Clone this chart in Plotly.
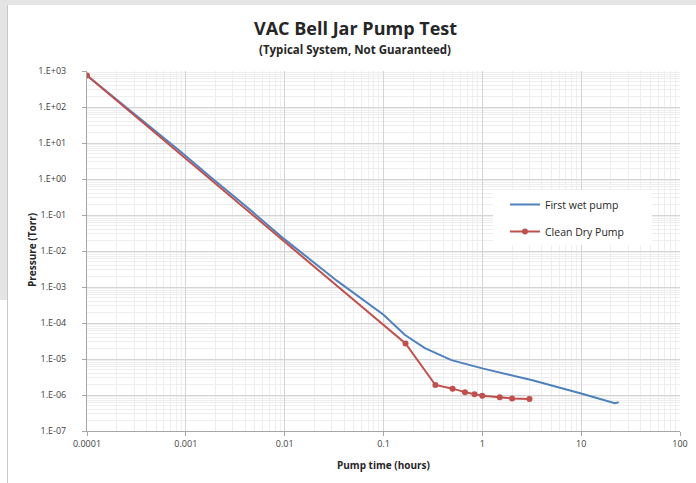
import plotly.graph_objects as go

# ---- data ----
wet_time = [0.0001, 0.00035, 0.00087, 0.0018, 0.004, 0.01, 0.0337, 0.1, 0.164, 0.262, 0.487, 1.0, 3.14, 10.0, 21.9, 24.0]
wet_pressure = [750, 45, 6.0, 1.1, 0.18, 0.021, 1.5e-3, 1.7e-4, 4.7e-5, 2.0e-5, 9.3e-6, 5.5e-6, 2.6e-6, 1.1e-6, 5.9e-7, 6.3e-7]

dry_time = [0.0001, 0.167, 0.335, 0.5, 0.667, 0.833, 1.0, 1.5, 2.0, 3.0]
dry_pressure = [750, 2.7e-5, 1.9e-6, 1.5e-6, 1.2e-6, 1.05e-6, 0.95e-6, 0.87e-6, 0.8e-6, 0.78e-6]

x_tick_vals = [0.0001, 0.001, 0.01, 0.1, 1, 10, 100]
x_tick_text = ["0.0001", "0.001", "0.01", "0.1", "1", "10", "100"]
y_tick_vals = [1e3, 1e2, 1e1, 1e0, 1e-1, 1e-2, 1e-3, 1e-4, 1e-5, 1e-6, 1e-7]
y_tick_text = ["1.E+03", "1.E+02", "1.E+01", "1.E+00", "1.E-01", "1.E-02",
               "1.E-03", "1.E-04", "1.E-05", "1.E-06", "1.E-07"]

FONT = "Open Sans"
TXT = "#262626"
W, H = 696, 483
L, R, T, B = 87, 16, 71, 52
pw, ph = W - L - R, H - T - B

def px(xp):
    return (xp - L) / pw

def py(yp):
    return (H - B - yp) / ph

fig = go.Figure()
fig.add_trace(go.Scatter(
    x=wet_time, y=wet_pressure, mode="lines", name="First wet pump",
    legendgroup="a", line=dict(color="#4F81BD", width=2)))
fig.add_trace(go.Scatter(
    x=dry_time, y=dry_pressure, mode="lines+markers", name="Clean Dry Pump",
    legendgroup="b", line=dict(color="#C0504D", width=2),
    marker=dict(color="#C0504D", size=6, symbol="circle")))

axis_common = dict(
    type="log", showline=True, linecolor="#a6a6a6", linewidth=1,
    showgrid=True, gridcolor="#d4d4d4", gridwidth=1, zeroline=False,
    tickfont=dict(family=FONT, size=9, color="#404040"),
    minor=dict(showgrid=True, gridcolor="#eeeeee", gridwidth=1, dtick="D1"),
    ticks="outside", ticklen=4, tickcolor="#a6a6a6",
)

fig.update_xaxes(**axis_common, range=[-4, 2], tickvals=x_tick_vals, ticktext=x_tick_text)
fig.update_yaxes(**axis_common, range=[-7, 3], tickvals=y_tick_vals, ticktext=y_tick_text,
                 ticklabelstandoff=14)

fig.add_annotation(x=px(355), y=py(28), xref="paper", yref="paper",
                   xanchor="center", yanchor="middle",
                   text="<b>VAC Bell Jar Pump Test</b>", showarrow=False,
                   font=dict(family=FONT, size=18, color=TXT))
fig.add_annotation(x=px(355), y=py(49), xref="paper", yref="paper",
                   xanchor="center", yanchor="middle",
                   text="<b>(Typical System, Not Guaranteed)</b>", showarrow=False,
                   font=dict(family=FONT, size=11.5, color=TXT))
fig.add_annotation(x=px(383), y=py(465), xref="paper", yref="paper",
                   xanchor="center", yanchor="middle",
                   text="<b>Pump time (hours)</b>", showarrow=False,
                   font=dict(family=FONT, size=10, color=TXT))
fig.add_annotation(x=px(32), y=py(250), xref="paper", yref="paper",
                   xanchor="center", yanchor="middle", textangle=-90,
                   text="<b>Pressure (Torr)</b>", showarrow=False,
                   font=dict(family=FONT, size=10, color=TXT))

# outer frame (grey border of the reference screenshot)
fig.add_shape(type="rect", xref="paper", yref="paper",
              x0=px(0), x1=px(7), y0=py(300), y1=py(0),
              fillcolor="#e4e4e4", line=dict(width=0), layer="below")
fig.add_shape(type="rect", xref="paper", yref="paper",
              x0=px(0), x1=px(W), y0=py(5), y1=py(0),
              fillcolor="#e4e4e4", line=dict(width=0), layer="below")
fig.add_shape(type="line", xref="paper", yref="paper",
              x0=px(7.5), x1=px(7.5), y0=py(H), y1=py(5),
              line=dict(color="#c8c8c8", width=1))
# white legend box hiding the grid behind it
fig.add_shape(type="rect", xref="paper", yref="paper",
              x0=px(493), x1=px(652), y0=py(245), y1=py(190),
              fillcolor="white", line=dict(width=0), layer="above")

fig.update_layout(
    width=W, height=H,
    margin=dict(l=L, r=R, t=T, b=B, autoexpand=False),
    paper_bgcolor="white", plot_bgcolor="white",
    showlegend=True,
    legend=dict(x=px(505), y=py(190), xanchor="left", yanchor="top",
                bgcolor="rgba(0,0,0,0)", borderwidth=0,
                font=dict(family=FONT, size=10.5, color=TXT),
                itemwidth=30, tracegroupgap=8),
)

fig.write_html("out.html", config={"displayModeBar": False},
               post_script="document.body.style.margin='0px';")
